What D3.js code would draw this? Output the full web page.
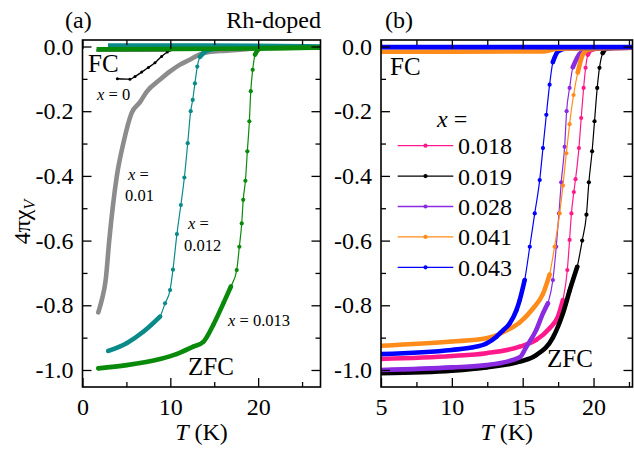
<!DOCTYPE html>
<html><head><meta charset="utf-8">
<script src="https://cdn.jsdelivr.net/npm/d3@7"></script>
<style>
body{margin:0;background:#fff;}
svg{display:block;font-family:"Liberation Serif","Times New Roman",serif;}
</style></head>
<body><svg id="c" width="634" height="452"></svg>
<script>
// ---------------- DATA ----------------
// Panel (a): Rh-doped, x = 0, 0.01, 0.012, 0.013
const a_labels = ["0", "0.01", "0.012", "0.013"];
const a_colors = ["#000000", "#8c8c8c", "#0b8a8a", "#0a8a0a"];
// ZFC
const a0_T = [3.97, 5.4, 5.98, 6.74, 7.5, 8.25, 9.0, 9.66, 10.0];
const a0_v = [-0.0995, -0.101, -0.093, -0.079, -0.065, -0.05, -0.031, -0.017, -0.011];
const a1_T = [1.8, 2.19, 2.64, 3.05, 3.9, 4.65, 5.6, 6.55, 7.3, 8.8, 9.97, 11.1, 12.2, 13.3, 14.4, 16.4, 18.7, 20.2, 27.1];
const a1_v = [-0.822, -0.784, -0.722, -0.598, -0.402, -0.299, -0.205, -0.172, -0.14, -0.103, -0.077, -0.056, -0.041, -0.025, -0.017, -0.013, -0.008, -0.005, -0.003];
const a2_T = [2.94, 5.03, 6.92, 8.83, 9.4, 9.97, 10.3, 10.75, 11.2, 11.6, 11.98, 12.32, 12.55, 12.8, 13.07, 13.38, 13.95, 14.5, 16, 20, 27.1];
const a2_v = [-0.941, -0.917, -0.882, -0.835, -0.794, -0.753, -0.69, -0.58, -0.49, -0.405, -0.299, -0.2, -0.165, -0.114, -0.062, -0.032, -0.016, -0.01, -0.006, -0.003, -0.002];
const a3_T = [1.8, 5.03, 8.83, 10.7, 12.6, 13.76, 14.9, 16.04, 16.9, 17.56, 17.86, 18.13, 18.3, 18.55, 18.77, 19.0, 19.16, 19.38, 19.65, 20.0, 20.5, 27.1];
const a3_v = [-0.995, -0.985, -0.966, -0.951, -0.928, -0.913, -0.86, -0.794, -0.742, -0.691, -0.619, -0.547, -0.474, -0.415, -0.324, -0.231, -0.138, -0.072, -0.025, -0.01, -0.005, -0.004];
// FC
const a0FC_T = [1.6, 10.0];
const a0FC_v = [-0.012, -0.012];
const a2FC_T = [2.9, 14.0, 27.1];
const a2FC_v = [0.004, 0.004, 0.001];
const a3FC_T = [1.6, 20.0, 27.1];
const a3FC_v = [-0.009, -0.006, -0.003];

// Panel (b): x = 0.018, 0.019, 0.028, 0.041, 0.043
const b_labels = ["0.018", "0.019", "0.028", "0.041", "0.043"];
const b_colors = ["#ff1a8c", "#000000", "#8a2be2", "#ff8c1a", "#0000ff"];
const b0_T = [5, 10, 12.44, 14.79, 15.96, 16.9, 17.49, 17.84, 18.15, 18.31, 18.44, 18.61, 18.73, 18.97, 19.13, 19.3, 19.44, 19.6, 19.77, 20.5, 22.75];
const b0_v = [-0.966, -0.957, -0.948, -0.928, -0.907, -0.871, -0.835, -0.784, -0.691, -0.598, -0.516, -0.45, -0.41, -0.314, -0.221, -0.128, -0.066, -0.025, -0.012, -0.005, -0.004];
const b1_T = [5, 10, 12.44, 14.79, 15.96, 17.13, 17.84, 18.31, 18.85, 19.2, 19.5, 19.67, 19.9, 20.07, 20.26, 20.42, 20.65, 20.89, 21.5, 22.75];
const b1_v = [-1.01, -1.002, -0.992, -0.974, -0.954, -0.9, -0.825, -0.755, -0.681, -0.6, -0.52, -0.42, -0.324, -0.231, -0.128, -0.066, -0.02, -0.007, -0.004, -0.003];
const b2_T = [5, 10, 12.44, 14.79, 15.26, 15.96, 16.43, 16.78, 17.13, 17.37, 17.56, 17.72, 17.96, 18.1, 18.31, 18.54, 19.01, 19.49, 20.5, 22.75];
const b2_v = [-1.0, -0.992, -0.985, -0.961, -0.928, -0.876, -0.825, -0.794, -0.722, -0.619, -0.516, -0.42, -0.31, -0.2, -0.128, -0.064, -0.023, -0.011, -0.005, -0.004];
const b3_T = [5, 10, 12.44, 13.2, 13.85, 14.79, 15.73, 16.43, 16.9, 17.25, 17.61, 17.84, 18.08, 18.31, 18.59, 18.89, 19.24, 19.6, 20.5, 22.75];
const b3_v = [-0.925, -0.912, -0.902, -0.892, -0.878, -0.853, -0.81, -0.765, -0.705, -0.619, -0.516, -0.43, -0.33, -0.24, -0.15, -0.08, -0.025, -0.01, -0.005, -0.004];
const b4_T = [5, 10, 11.5, 12.44, 13.15, 13.6, 14.08, 14.56, 14.79, 15.14, 15.5, 15.85, 16.2, 16.43, 16.67, 16.9, 17.13, 17.49, 18.08, 22.75];
const b4_v = [-0.951, -0.938, -0.93, -0.918, -0.897, -0.878, -0.856, -0.815, -0.784, -0.722, -0.619, -0.516, -0.413, -0.314, -0.211, -0.118, -0.048, -0.015, -0.006, -0.004];
const b3FC_T = [5, 16.5, 17.5, 22.75];
const b3FC_v = [-0.016, -0.015, -0.007, -0.004];
const b4FC_T = [5, 22.75];
const b4FC_v = [-0.002, -0.002];

const yTicks = [0, -0.2, -0.4, -0.6, -0.8, -1.0];
const yMinor = [-0.1, -0.3, -0.5, -0.7, -0.9];
const a_xTicks = [0, 10, 20];
const a_xMinor = [5, 15, 25];
const b_xTicks = [5, 10, 15, 20];
const b_xMinor = [7.5, 12.5, 17.5, 22.5];

// ---------------- DRAW ----------------
const svg = d3.select("#c");
const FONT = "Liberation Serif, Times New Roman, serif";
const zip = (T, v) => T.map((t, i) => ({T: t, v: v[i]}));

const PA = {x0: 82.5, x1: 320.5, y0: 40, y1: 387};
const PB = {x0: 381, x1: 632.5, y0: 40, y1: 387};
const xa = d3.scaleLinear().domain([0, 27.1]).range([PA.x0, PA.x1]);
const xb = d3.scaleLinear().domain([5, 22.75]).range([PB.x0, PB.x1]);
const y = d3.scaleLinear().domain([-1.0526, 0.0201]).range([387, 40]);

function clip(id, P) {
  svg.append("clipPath").attr("id", id).append("rect")
    .attr("x", P.x0).attr("y", P.y0).attr("width", P.x1 - P.x0).attr("height", P.y1 - P.y0);
}
clip("ca", PA); clip("cb", PB);

function axes(P, x, xt, xm) {
  const g = svg.append("g");
  const fmt = d => d.toFixed(1);
  const mk = (gen, tr) => {
    const a = g.append("g").attr("transform", tr).call(gen);
    a.select(".domain").remove();
    a.selectAll("line").attr("stroke", "#000").attr("stroke-width", 1.3);
    a.selectAll("text").attr("font-size", 24).attr("fill", "#000").attr("font-family", FONT);
    return a;
  };
  mk(d3.axisLeft(y).tickValues(yTicks).tickSize(-9).tickPadding(9).tickFormat(fmt), `translate(${P.x0},0)`);
  mk(d3.axisLeft(y).tickValues(yMinor).tickSize(-5).tickFormat(""), `translate(${P.x0},0)`);
  mk(d3.axisRight(y).tickValues(yTicks).tickSize(-9).tickFormat(""), `translate(${P.x1},0)`);
  mk(d3.axisRight(y).tickValues(yMinor).tickSize(-5).tickFormat(""), `translate(${P.x1},0)`);
  mk(d3.axisBottom(x).tickValues(xt).tickSize(-9).tickPadding(11).tickFormat(d3.format("d")), `translate(0,${P.y1})`);
  mk(d3.axisBottom(x).tickValues(xm).tickSize(-5).tickFormat(""), `translate(0,${P.y1})`);
  mk(d3.axisTop(x).tickValues(xt).tickSize(-9).tickFormat(""), `translate(0,${P.y0})`);
  mk(d3.axisTop(x).tickValues(xm).tickSize(-5).tickFormat(""), `translate(0,${P.y0})`);
  g.append("rect").attr("x", P.x0).attr("y", P.y0).attr("width", P.x1 - P.x0).attr("height", P.y1 - P.y0)
    .attr("fill", "none").attr("stroke", "#000").attr("stroke-width", 1.6);
}

// measured series: thin connecting line + markers; where points are dense (shallow slope) they merge into a band
function series(layer, x, data, color, opt) {
  opt = opt || {};
  const pts = data.map(d => [x(d.T), y(d.v)]);
  const line = d3.line().curve(d3.curveMonotoneX);
  const thickW = opt.thick || 4.6;
  if (opt.allThick) {
    layer.append("path").attr("d", line(pts)).attr("fill", "none").attr("stroke", color)
      .attr("stroke-width", thickW).attr("stroke-linejoin", "round").attr("stroke-linecap", "round");
    return;
  }
  layer.append("path").attr("d", line(pts)).attr("fill", "none").attr("stroke", color)
    .attr("stroke-width", opt.thin || 1.2);
  let run = [];
  const flush = () => {
    if (run.length > 1) layer.append("path").attr("d", line(run)).attr("fill", "none")
      .attr("stroke", color).attr("stroke-width", thickW).attr("stroke-linecap", "round");
    run = [];
  };
  for (let i = 0; i < pts.length - 1; i++) {
    const s = Math.abs((pts[i + 1][1] - pts[i][1]) / (pts[i + 1][0] - pts[i][0]));
    if (s < (opt.slope === undefined ? 3.5 : opt.slope)) {
      if (!run.length) run.push(pts[i]);
      run.push(pts[i + 1]);
    } else flush();
  }
  flush();
  layer.selectAll(null).data(pts).enter().append("circle")
    .attr("cx", d => d[0]).attr("cy", d => d[1]).attr("r", opt.r || 2.1).attr("fill", color);
}
function fcLine(layer, x, data, color, w) {
  const line = d3.line().curve(d3.curveMonotoneX);
  layer.append("path").attr("d", line(data.map(d => [x(d.T), y(d.v)]))).attr("fill", "none")
    .attr("stroke", color).attr("stroke-width", w).attr("stroke-linecap", "butt");
}

// ----- Panel (a)
const La = svg.append("g").attr("clip-path", "url(#ca)");
fcLine(La, xa, zip(a0FC_T, a0FC_v), a_colors[0], 2.2);
series(La, xa, zip(a0_T, a0_v), a_colors[0], {thin: 1.4, r: 1.5, thick: 2.4, slope: 0});
series(La, xa, zip(a1_T, a1_v), a_colors[1], {allThick: true, thick: 4.6});
fcLine(La, xa, zip(a2FC_T, a2FC_v), a_colors[2], 4);
series(La, xa, zip(a2_T, a2_v), a_colors[2], {slope: 2.5});
fcLine(La, xa, zip(a3FC_T, a3FC_v), a_colors[3], 4.6);
series(La, xa, zip(a3_T, a3_v), a_colors[3], {slope: 2.5});
axes(PA, xa, a_xTicks, a_xMinor);

// ----- Panel (b)
const Lb = svg.append("g").attr("clip-path", "url(#cb)");
const bT = [b0_T, b1_T, b2_T, b3_T, b4_T], bV = [b0_v, b1_v, b2_v, b3_v, b4_v];
bT.forEach((T, i) => series(Lb, xb, zip(T, bV[i]), b_colors[i], {slope: 4.5}));
fcLine(Lb, xb, zip(b3FC_T, b3FC_v), b_colors[3], 4.6);
fcLine(Lb, xb, zip(b4FC_T, b4FC_v), b_colors[4], 4.6);
axes(PB, xb, b_xTicks, b_xMinor);

// ----- Texts
const txt = (x, yy, s, size, anchor) => svg.append("text").attr("x", x).attr("y", yy)
  .attr("font-size", size).attr("font-family", FONT).attr("text-anchor", anchor || "start").attr("fill", "#000").text(s);
txt(65, 28, "(a)", 24);
txt(321, 28, "Rh-doped", 24, "end");
txt(385, 28, "(b)", 24);
txt(88, 72, "FC", 25);
txt(390, 75, "FC", 25);
txt(188, 375, "ZFC", 25);
txt(547, 367, "ZFC", 25);

function xeq(x, yy, val, size) {
  const t = svg.append("text").attr("x", x).attr("y", yy).attr("font-size", size).attr("font-family", FONT).attr("fill", "#000");
  t.append("tspan").attr("font-style", "italic").text("x");
  t.append("tspan").text(val === null ? " =" : " = " + val);
  return t;
}
xeq(97, 100, a_labels[0], 16.5);
xeq(128, 180, null, 16.5); txt(125, 201, a_labels[1], 16.5);
xeq(188, 229, null, 16.5); txt(184, 251, a_labels[2], 16.5);
xeq(228, 326, a_labels[3], 16.5);

// axis titles
function xTitle(cx) {
  const t = svg.append("text").attr("x", cx).attr("y", 440).attr("font-size", 24).attr("font-family", FONT).attr("text-anchor", "middle");
  t.append("tspan").attr("font-style", "italic").text("T");
  t.append("tspan").text(" (K)");
}
xTitle((PA.x0 + PA.x1) / 2);
xTitle((PB.x0 + PB.x1) / 2);
const yl = svg.append("text").attr("transform", "translate(30,222) rotate(-90)")
  .attr("font-size", 24).attr("font-family", FONT).attr("text-anchor", "middle");
yl.append("tspan").text("4πχ");
yl.append("tspan").attr("font-style", "italic").attr("font-size", 16).attr("dy", 5).text("V");

// ----- Legend (b)
const lg = svg.append("g");
const lgT = lg.append("text").attr("x", 437).attr("y", 127).attr("font-size", 24).attr("font-family", FONT);
lgT.append("tspan").attr("font-style", "italic").text("x");
lgT.append("tspan").text(" =");
b_labels.forEach((lab, i) => {
  const yy = 145.7 + i * 30.4;
  lg.append("line").attr("x1", 397.7).attr("x2", 453.3).attr("y1", yy).attr("y2", yy)
    .attr("stroke", b_colors[i]).attr("stroke-width", 1.3);
  lg.append("circle").attr("cx", 425.5).attr("cy", yy).attr("r", 2.1).attr("fill", b_colors[i]);
  lg.append("text").attr("x", 458).attr("y", yy + 8.5).attr("font-size", 24).attr("font-family", FONT).text(lab);
});
</script></body></html>
